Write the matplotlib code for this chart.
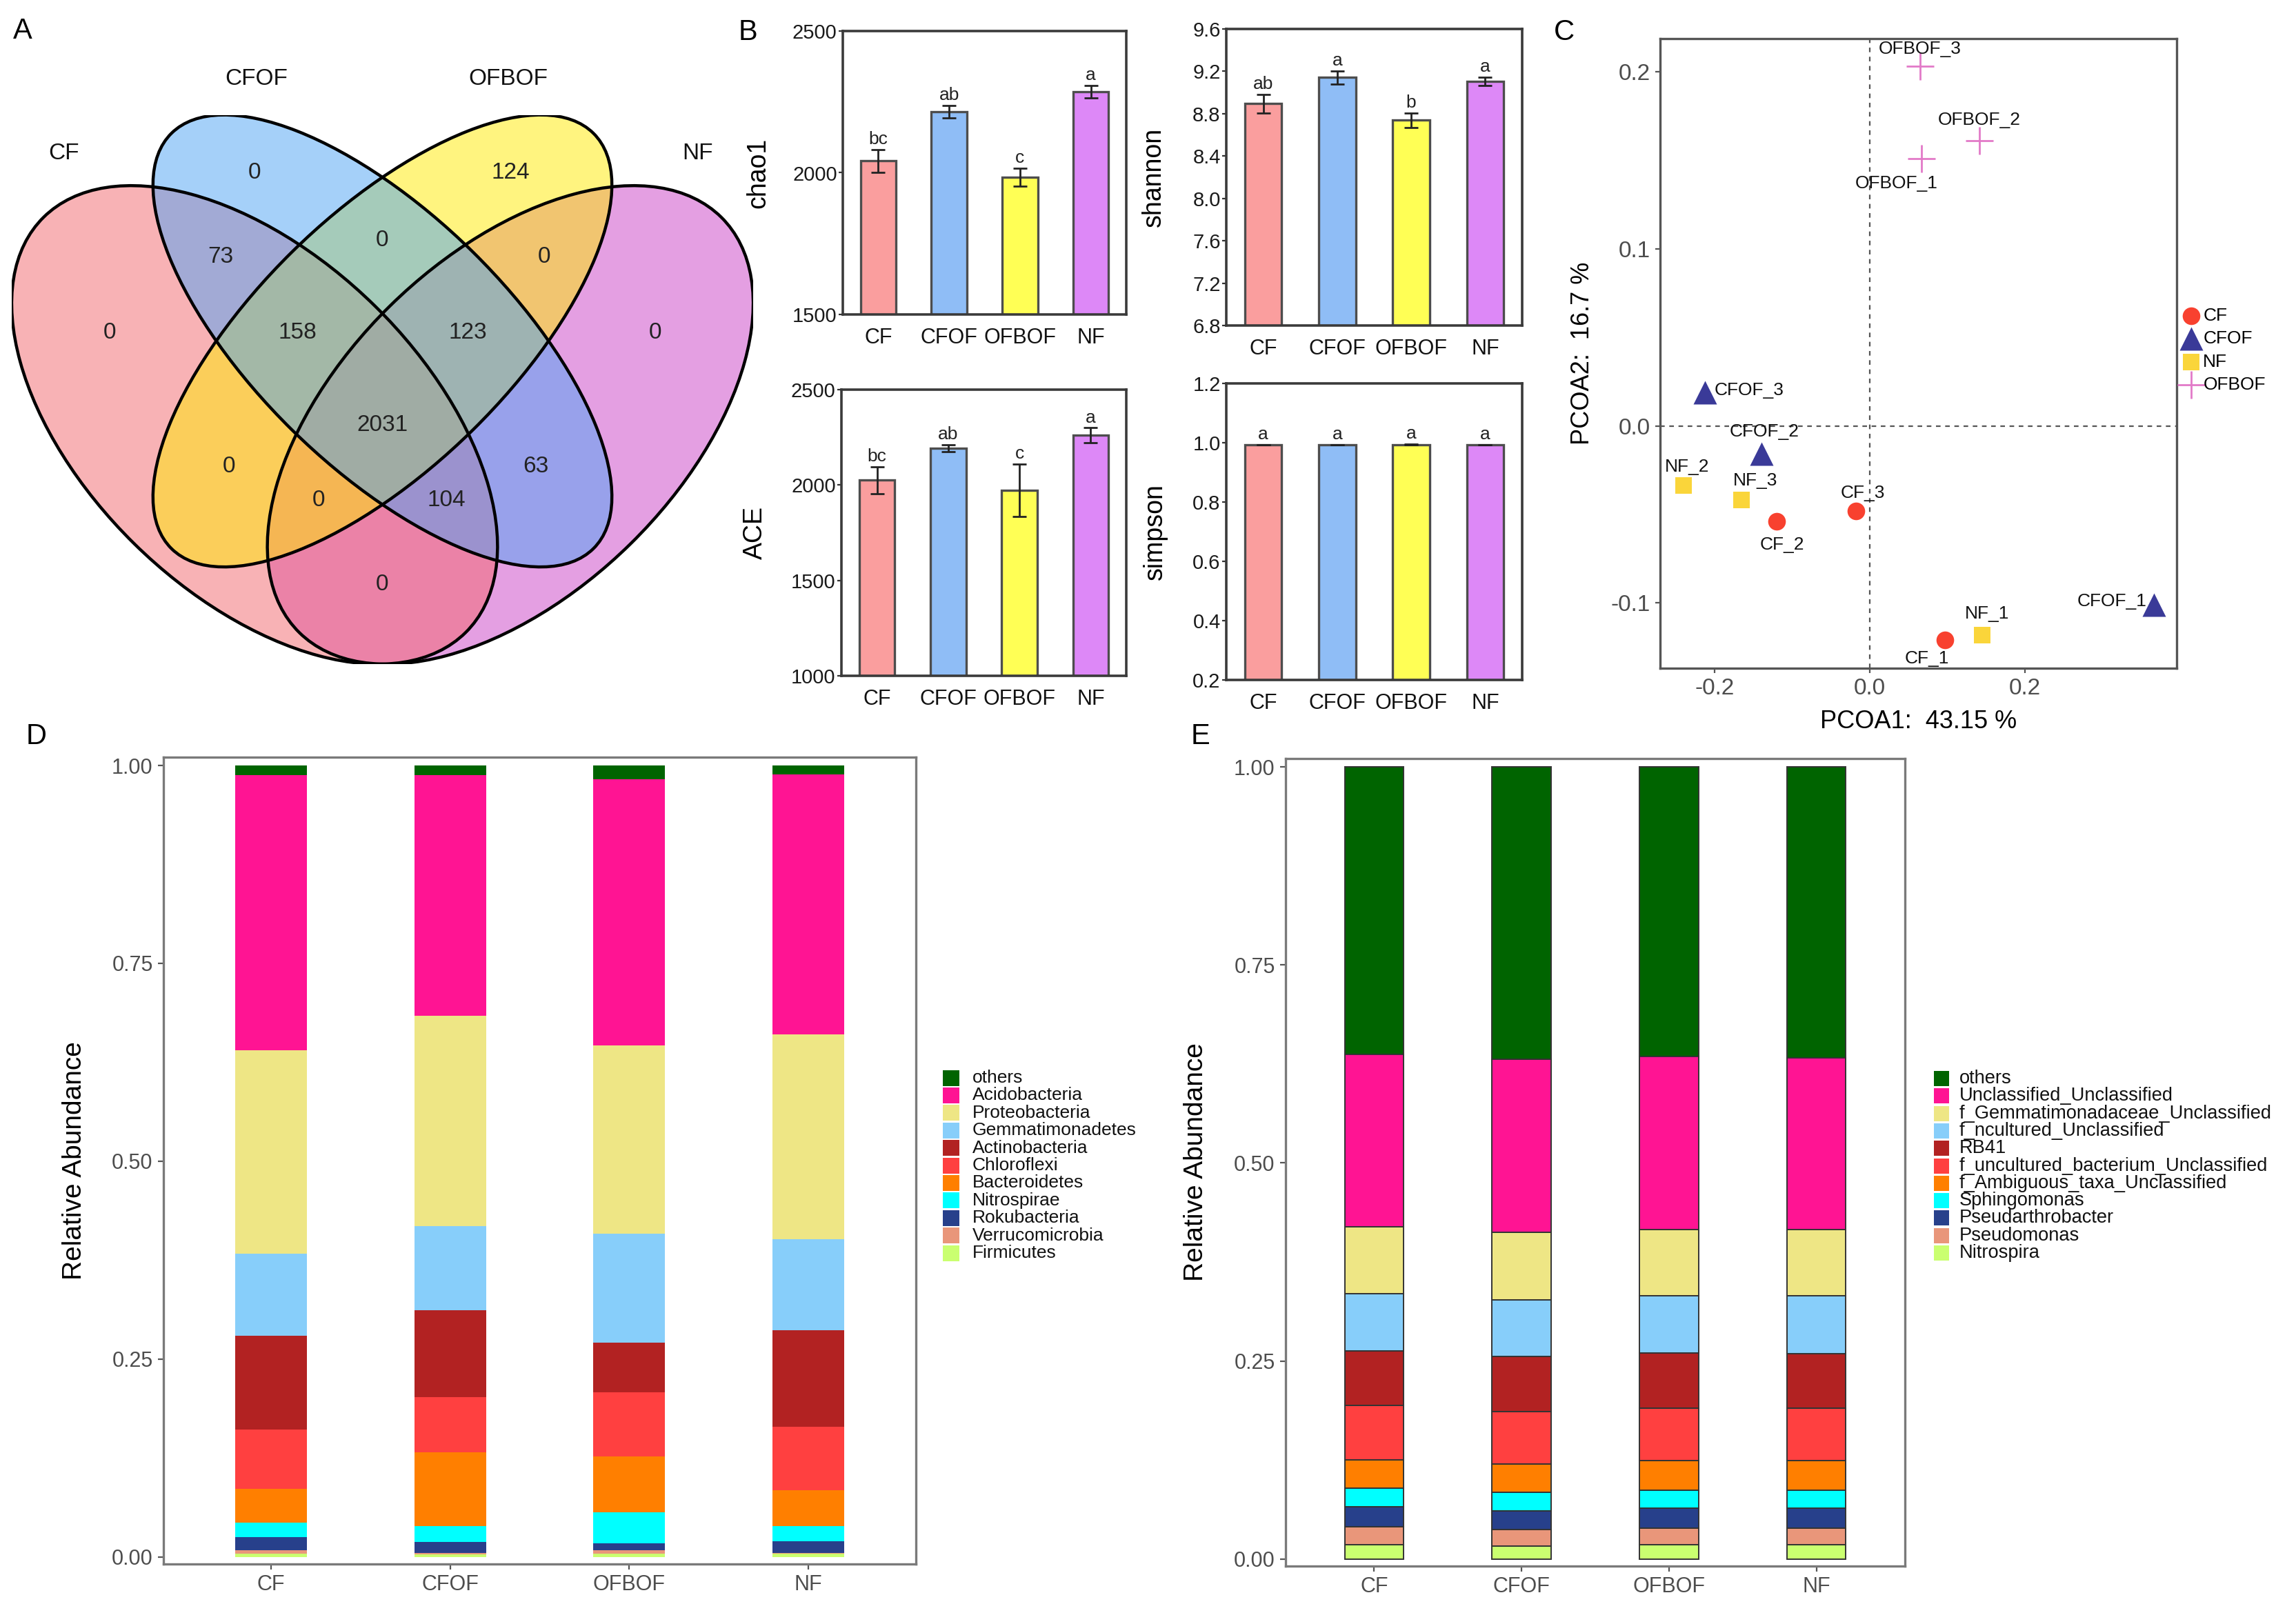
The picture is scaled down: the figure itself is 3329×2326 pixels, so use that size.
import matplotlib
matplotlib.use("Agg")
import matplotlib.pyplot as plt
import numpy as np
from matplotlib.patches import Ellipse, Rectangle
from matplotlib.ticker import FormatStrFormatter

plt.rcParams['font.family'] = ['Liberation Sans', 'DejaVu Sans']

W, H, DPI = 3329, 2326, 200

groups = ["CF", "CFOF", "OFBOF", "NF"]

# ---------------- A: venn counts
venn_sets = ["CF", "CFOF", "OFBOF", "NF"]
venn_regions = ["CF", "CFOF", "OFBOF", "NF",
                "CF&CFOF", "CFOF&OFBOF", "OFBOF&NF",
                "CF&CFOF&OFBOF", "CFOF&OFBOF&NF", "CF&CFOF&OFBOF&NF",
                "CF&OFBOF", "CF&OFBOF&NF", "CF&CFOF&NF", "CFOF&NF", "CF&NF"]
venn_counts = [0, 0, 124, 0, 73, 0, 0, 158, 123, 2031, 0, 0, 104, 63, 0]

# ---------------- B: alpha diversity
chao1 = [2042, 2215, 1985, 2287]
chao1_se = [40, 22, 32, 22]
chao1_sig = ["bc", "ab", "c", "a"]
shannon = [8.895, 9.144, 8.738, 9.105]
shannon_se = [0.089, 0.062, 0.066, 0.040]
shannon_sig = ["ab", "a", "b", "a"]
ace = [2025, 2193, 1973, 2261]
ace_se = [70, 19, 137, 39]
ace_sig = ["bc", "ab", "c", "a"]
simpson = [0.993, 0.993, 0.994, 0.993]
simpson_se = [0.001, 0.001, 0.001, 0.001]
simpson_sig = ["a", "a", "a", "a"]

# ---------------- C: PCoA
pc1_CF = [0.097, -0.120, -0.018]
pc2_CF = [-0.121, -0.054, -0.048]
pc1_CFOF = [0.366, -0.1395, -0.2125]
pc2_CFOF = [-0.101, -0.0156, 0.019]
pc1_NF = [0.145, -0.240, -0.165]
pc2_NF = [-0.118, -0.0335, -0.0416]
pc1_OFBOF = [0.067, 0.141, 0.065]
pc2_OFBOF = [0.151, 0.161, 0.203]

# ---------------- D: phylum relative abundance (legend order)
phyla = ["others", "Acidobacteria", "Proteobacteria", "Gemmatimonadetes",
         "Actinobacteria", "Chloroflexi", "Bacteroidetes", "Nitrospirae",
         "Rokubacteria", "Verrucomicrobia", "Firmicutes"]
phylum_CF = [0.012, 0.348, 0.257, 0.104, 0.118, 0.075, 0.043, 0.018, 0.017, 0.004, 0.004]
phylum_CFOF = [0.012, 0.304, 0.266, 0.106, 0.110, 0.070, 0.093, 0.020, 0.014, 0.002, 0.003]
phylum_OFBOF = [0.017, 0.337, 0.238, 0.137, 0.063, 0.081, 0.071, 0.039, 0.009, 0.004, 0.004]
phylum_NF = [0.011, 0.329, 0.259, 0.115, 0.122, 0.080, 0.045, 0.019, 0.015, 0.001, 0.004]

# ---------------- E: genus relative abundance (legend order)
genera = ["others", "Unclassified_Unclassified", "f_Gemmatimonadaceae_Unclassified",
          "f_ncultured_Unclassified", "RB41", "f_uncultured_bacterium_Unclassified",
          "f_Ambiguous_taxa_Unclassified", "Sphingomonas", "Pseudarthrobacter",
          "Pseudomonas", "Nitrospira"]
genus_CF = [0.363, 0.218, 0.084, 0.072, 0.069, 0.069, 0.036, 0.023, 0.025, 0.023, 0.018]
genus_CFOF = [0.369, 0.219, 0.085, 0.071, 0.070, 0.066, 0.036, 0.023, 0.024, 0.021, 0.016]
genus_OFBOF = [0.366, 0.218, 0.084, 0.072, 0.070, 0.066, 0.037, 0.023, 0.025, 0.021, 0.018]
genus_NF = [0.367, 0.217, 0.084, 0.073, 0.069, 0.066, 0.037, 0.023, 0.025, 0.021, 0.018]

# styles
venn_fill = {"CF": "#F3676D", "CFOF": "#4DA3F5", "OFBOF": "#FFEB00", "NF": "#CB41C7"}
bar_cols = ["#FA9E9E", "#8FBDF6", "#FFFF55", "#DD88F7"]
taxa_cols = ["#006400", "#FF1493", "#EEE685", "#87CEFA", "#B22222", "#FF4040",
             "#FF7F00", "#00FFFF", "#27408B", "#E9967A", "#CAFF70"]

fig = plt.figure(figsize=(W / DPI, H / DPI), dpi=DPI)


def px_axes(x0, y0, x1, y1):
    return fig.add_axes([x0 / W, 1 - y1 / H, (x1 - x0) / W, (y1 - y0) / H])


def fig_text(x, y, s, **kw):
    fig.text(x / W, 1 - y / H, s, **kw)


# ================= A: Venn
axv = px_axes(17, 167, 1092, 963)
axv.set_xlim(0.065, 0.935)
axv.set_ylim(0.185, 0.839)
axv.axis("off")
ell_geom = {"CF": (0.35, 0.47, 0.35, 0.20, -45),
            "CFOF": (0.50, 0.57, 0.35, 0.15, -45),
            "OFBOF": (0.50, 0.57, 0.35, 0.15, 45),
            "NF": (0.65, 0.47, 0.35, 0.20, 45)}
for name in ["NF", "CF", "OFBOF", "CFOF"]:
    cx, cy, a, b, ang = ell_geom[name]
    axv.add_patch(Ellipse((cx, cy), 2 * a, 2 * b, angle=ang,
                          facecolor=venn_fill[name], alpha=0.5, lw=0))
for name in venn_sets:
    cx, cy, a, b, ang = ell_geom[name]
    axv.add_patch(Ellipse((cx, cy), 2 * a, 2 * b, angle=ang,
                          facecolor="none", edgecolor="black", lw=1.6))
region_xy = [(0.18, 0.58), (0.35, 0.77), (0.65, 0.77), (0.82, 0.58),
             (0.31, 0.67), (0.50, 0.69), (0.69, 0.67),
             (0.40, 0.58), (0.60, 0.58), (0.50, 0.47),
             (0.32, 0.42), (0.425, 0.38), (0.575, 0.38), (0.68, 0.42), (0.50, 0.28)]
for (x, y), n in zip(region_xy, venn_counts):
    axv.text(x, y, str(n), ha="center", va="center", fontsize=12, color="#222222")
cat_xy = {"CF": (0.126, 0.793), "CFOF": (0.352, 0.882),
          "OFBOF": (0.648, 0.882), "NF": (0.870, 0.793)}
for name in venn_sets:
    axv.text(*cat_xy[name], name, ha="center", va="center", fontsize=12, color="#111111")


# ================= B: alpha diversity bars
def alpha_panel(box, vals, se, sig, ylim, yticks, fmt, ylabel, labx):
    ax = px_axes(*box)
    x = np.arange(1, 5)
    ax.bar(x, vals, width=0.5, color=bar_cols, edgecolor="#4d4d4d", linewidth=1.2, zorder=2)
    ax.errorbar(x, vals, yerr=se, fmt="none", ecolor="#222222", elinewidth=1.0,
                capsize=3.5, capthick=1.0, zorder=3)
    for xi, v, e, s in zip(x, vals, se, sig):
        ax.annotate(s, (xi, v + e), xytext=(0, 1.0), textcoords="offset points",
                    ha="center", va="bottom", fontsize=9.5, color="#222222")
    ax.set_xlim(0.5, 4.5)
    ax.set_ylim(*ylim)
    ax.set_yticks(yticks)
    ax.yaxis.set_major_formatter(FormatStrFormatter(fmt))
    ax.set_xticks(x)
    ax.set_xticklabels(groups)
    ax.tick_params(axis="y", length=2, width=0.8, color="#333333", pad=1,
                   labelsize=10.5, labelcolor="#1a1a1a")
    ax.tick_params(axis="x", length=0, pad=7, labelsize=11, labelcolor="#111111")
    for sp in ax.spines.values():
        sp.set_color("#3a3a3a")
        sp.set_linewidth(1.3)
    ax.set_ylabel(ylabel, fontsize=13.5)
    ax.yaxis.set_label_coords(labx, 0.5)
    return ax


alpha_panel((1222, 45, 1633, 456), chao1, chao1_se, chao1_sig, (1500, 2500),
            [1500, 2000, 2500], "%d", "chao1", -0.255)
alpha_panel((1220, 565, 1633, 980), ace, ace_se, ace_sig, (1000, 2500),
            [1000, 1500, 2000, 2500], "%d", "ACE", -0.26)
alpha_panel((1778, 42, 2207, 472), shannon, shannon_se, shannon_sig, (6.8, 9.6),
            np.arange(6.8, 9.61, 0.4), "%.1f", "shannon", -0.203)
alpha_panel((1778, 556, 2207, 986), simpson, simpson_se, simpson_sig, (0.2, 1.2),
            np.arange(0.2, 1.21, 0.2), "%.1f", "simpson", -0.198)

# ================= C: PCoA
axc = px_axes(2407, 56, 3156, 969)
axc.axhline(0, color="#555555", lw=0.8, ls=(0, (3, 3)), zorder=1)
axc.axvline(0, color="#555555", lw=0.8, ls=(0, (3, 3)), zorder=1)
h_cf = axc.scatter(pc1_CF, pc2_CF, s=85, marker="o", color="#F8412F", lw=0, zorder=3)
h_cfof = axc.scatter(pc1_CFOF, pc2_CFOF, s=150, marker="^", color="#3A3A98", lw=0, zorder=3)
h_nf = axc.scatter(pc1_NF, pc2_NF, s=80, marker="s", color="#FAD53A", lw=0, zorder=3)
h_ofbof = axc.scatter(pc1_OFBOF, pc2_OFBOF, s=200, marker="+", color="#E27AC8",
                      lw=1.0, zorder=3)

# label offsets in points (dx, dy)
pc_labels = {
    "CF": (pc1_CF, pc2_CF, [(-9.5, -9.5), (3, -12), (3.5, 9.5)]),
    "CFOF": (pc1_CFOF, pc2_CFOF, [(-22, 2), (1.5, 11.5), (23, 1)]),
    "NF": (pc1_NF, pc2_NF, [(2.5, 11), (2, 9.5), (7, 10)]),
    "OFBOF": (pc1_OFBOF, pc2_OFBOF, [(-13, -13), (0, 11), (0, 9)]),
}
for g, (xs, ys, offs) in pc_labels.items():
    for i, (xv, yv, off) in enumerate(zip(xs, ys, offs)):
        axc.annotate(f"{g}_{i + 1}", (xv, yv), xytext=off, textcoords="offset points",
                     ha="center", va="center", fontsize=9.5, color="#111111", zorder=4)

axc.set_xlim(-0.270, 0.3955)
axc.set_ylim(-0.1368, 0.2187)
axc.set_xticks([-0.2, 0.0, 0.2])
axc.set_yticks([-0.1, 0.0, 0.1, 0.2])
axc.xaxis.set_major_formatter(FormatStrFormatter("%.1f"))
axc.yaxis.set_major_formatter(FormatStrFormatter("%.1f"))
axc.tick_params(length=2.5, width=0.8, color="#555555", pad=2.5, labelsize=12,
                labelcolor="#4d4d4d")
for sp in axc.spines.values():
    sp.set_color("#555555")
    sp.set_linewidth(1.2)
axc.set_xlabel("PCOA1:  43.15 %", fontsize=13)
axc.set_ylabel("PCOA2:  16.7 %", fontsize=13)
axc.xaxis.set_label_coords(0.5, -0.066)
axc.yaxis.set_label_coords(-0.127, 0.5)
axc.legend([h_cf, h_cfof, h_nf, h_ofbof], ["CF", "CFOF", "NF", "OFBOF"],
           loc="center left", bbox_to_anchor=(1.0, 0.505), frameon=False,
           fontsize=9.5, handletextpad=0.05, labelspacing=0.35, borderaxespad=0.1,
           handlelength=1.2, borderpad=0.1)


# ================= D / E: stacked bars
def stack_panel(box, layers, colors, edge, lw, labx):
    ax = px_axes(*box)
    x = np.arange(1, 5)
    bottom = np.zeros(4)
    for i in reversed(range(len(colors))):
        vals = np.array([layer[i] for layer in layers])
        ax.bar(x, vals, 0.4, bottom=bottom, color=colors[i], edgecolor=edge,
               linewidth=lw, zorder=2)
        bottom += vals
    ax.set_xlim(0.4, 4.6)
    ax.set_ylim(-0.009, 1.0105)
    ax.set_yticks([0, 0.25, 0.5, 0.75, 1.0])
    ax.yaxis.set_major_formatter(FormatStrFormatter("%.2f"))
    ax.set_xticks(x)
    ax.set_xticklabels(groups)
    ax.tick_params(length=3, width=0.8, color="#555555", pad=2.5, labelsize=11,
                   labelcolor="#4d4d4d")
    for sp in ax.spines.values():
        sp.set_color("#7a7a7a")
        sp.set_linewidth(1.2)
    ax.set_ylabel("Relative Abundance", fontsize=14)
    ax.yaxis.set_label_coords(labx, 0.5)
    return ax


def box_legend(xb, y0, step, bw, bh, tx, names, colors, fs):
    for i, (n, c) in enumerate(zip(names, colors)):
        yc = y0 + i * step
        fig.add_artist(Rectangle((xb / W, 1 - (yc + bh / 2) / H), bw / W, bh / H,
                                 transform=fig.transFigure, facecolor=c,
                                 edgecolor="none"))
        fig_text(tx, yc, n, ha="left", va="center", fontsize=fs, color="#111111")


stack_panel((237, 1098, 1328, 2268), [phylum_CF, phylum_CFOF, phylum_OFBOF, phylum_NF],
            taxa_cols, "none", 0, -0.102)
box_legend(1367, 1563, 25.4, 24, 23, 1410, phyla, taxa_cols, 9.5)

stack_panel((1864, 1100, 2762, 2271), [genus_CF, genus_CFOF, genus_OFBOF, genus_NF],
            taxa_cols, "#333333", 0.7, -0.125)
box_legend(2804, 1564, 25.3, 22, 22, 2841, genera, taxa_cols, 9.8)

# panel letters
for lab, (x, y) in {"A": (33, 45), "B": (1084, 47), "C": (2268, 47),
                    "D": (53, 1068), "E": (1741, 1068)}.items():
    fig_text(x, y, lab, ha="center", va="center", fontsize=15)

fig.savefig("out.png", dpi=DPI)
